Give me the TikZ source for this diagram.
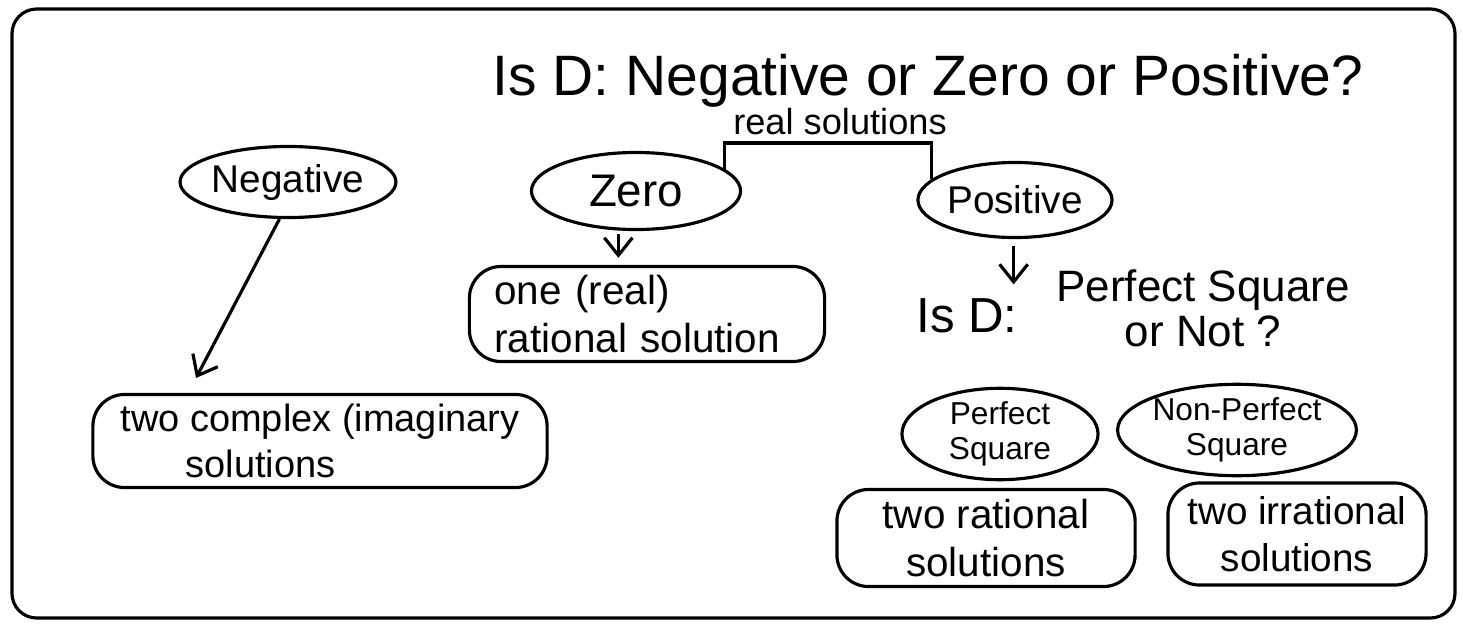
\documentclass[tikz,border=0pt]{standalone}
\usepackage{fontspec}
\setmainfont{Liberation Sans}
\usetikzlibrary{shapes.geometric,arrows.meta}

\begin{document}
\begin{tikzpicture}[x=0.01cm,y=-0.01cm]
		 \tikzstyle{every node}+=[inner sep=0pt]
		 \tikzstyle{oval}=[draw=black,ellipse,line width=0.9pt,align=center]
		 \tikzstyle{answer}=[draw=black,rounded corners=9pt,line width=0.9pt,font=\fontsize{11.5}{13.5}\selectfont]
		 \tikzstyle{arr}=[black,line width=0.9pt,-{Straight Barb[length=5pt,width=8pt]}]
		 \useasboundingbox (0,0) rectangle (1463,624);
		 \draw [black,line width=0.9pt,rounded corners=7pt] (12,9) rectangle (1455,618);
		 \node [anchor=base,font=\fontsize{16.2}{20}\selectfont] (title) at (928,95) {Is D: Negative or Zero or Positive?};
		 \node [anchor=south,inner ysep=2pt,font=\fontsize{10.3}{12}\selectfont] (real) at (840,143) {real solutions};
		 \node [oval,minimum width=2.07cm,minimum height=0.71cm,font=\fontsize{11}{13}\selectfont] (neg) at (288,182) {Negative};
		 \node [oval,minimum width=2.09cm,minimum height=0.77cm,font=\fontsize{13}{15}\selectfont] (zero) at (636,191) {Zero};
		 \node [oval,minimum width=1.94cm,minimum height=0.75cm,font=\fontsize{11}{13}\selectfont] (pos) at (1015,200) {Positive};
		 \draw [black,line width=0.9pt] (zero.14) |- (real.south) -| (pos.166);
		 \node [answer,align=left,text width=3.05cm,minimum width=3.55cm,minimum height=0.95cm] (one) at (647,314) {one (real)\\rational solution};
		 \draw [arr,shorten <=1pt,shorten >=2pt] (zero.246) -- (zero.246 |- one.north);
		 \node [answer,align=left,minimum width=4.54cm,minimum height=0.93cm,font=\fontsize{10.8}{13}\selectfont] (twocx) at (320,441) {two complex (imaginary\\\hspace*{0.65cm}solutions};
		 \coordinate (negtip) at (196,378);
		 \draw [arr] (neg.257) -- (negtip);
		 \node [anchor=base,font=\fontsize{14}{16}\selectfont] (isd) at (967,332) {Is D:};
		 \draw [arr,shorten <=2pt,shorten >=3.7pt] (pos.268) -- (pos.268 |- isd.north);
		 \node [align=center,font=\fontsize{12.5}{12.8}\selectfont] (psq) at (1203,308) {Perfect Square\\or Not ?};
		 \node [oval,minimum width=1.96cm,minimum height=0.82cm,font=\fontsize{9}{10}\selectfont] (perf) at (1000,434) {Perfect\\Square};
		 \node [oval,minimum width=1.96cm,minimum height=0.84cm,font=\fontsize{9}{10}\selectfont] (nonp) at (1237,430) {Non-Perfect\\Square};
		 \node [answer,align=center,minimum width=2.98cm,minimum height=0.97cm] (tworat) at (986,538) {two rational\\solutions};
		 \node [answer,align=center,minimum width=2.58cm,minimum height=1.02cm,font=\fontsize{11}{13.5}\selectfont] (twoirr) at (1297,534) {two irrational\\solutions};
	 \end{tikzpicture}
\end{document}
